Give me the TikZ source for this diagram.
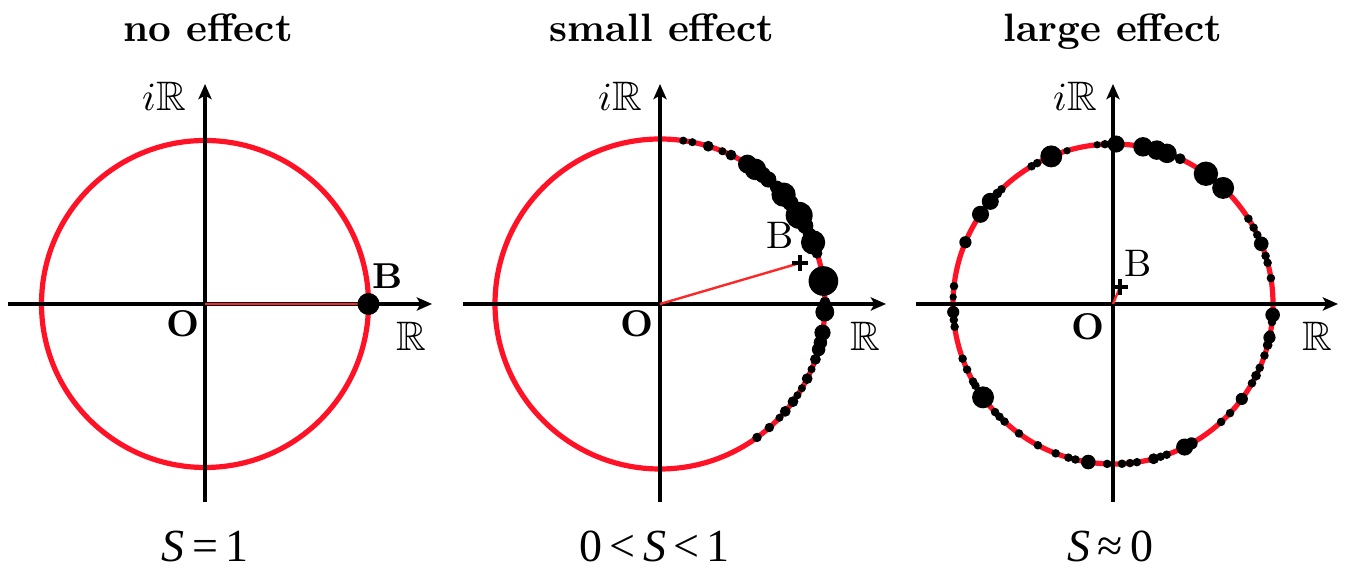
\documentclass[tikz,border=0pt]{standalone}
\usepackage{fontspec}
\usepackage{amssymb}
\usetikzlibrary{arrows.meta}
\newfontfamily\tms{Liberation Serif}
\definecolor{circred}{RGB}{255,18,38}
\definecolor{radred}{RGB}{250,40,40}
\begin{document}
\begin{tikzpicture}[x=0.25pt,y=0.25pt,
  axis/.style={line width=0.8pt,-{Stealth[length=3.8pt,width=3.3pt,inset=0.9pt]}},
  ring/.style={circred,line width=1.3pt},
  radline/.style={radred,line width=0.6pt},
  dot/.style={fill=black},
  plusmark/.style={line width=0.95pt},
  ttl/.style={font=\fontsize{9.9}{12}\bfseries, anchor=base, inner sep=0pt},
  cond/.style={font=\fontsize{11.5}{13}\tms, anchor=base, inner sep=0pt},
  axlabel/.style={font=\fontsize{10.3}{12}\selectfont, anchor=base, inner sep=0pt},
  olabel/.style={font=\fontsize{9.3}{11}\bfseries, anchor=base, inner sep=0pt},
  blabel/.style={font=\fontsize{9.6}{11}\selectfont, anchor=base, inner sep=0pt},
  bblabel/.style={font=\fontsize{9}{11}\bfseries, anchor=base, inner sep=0pt}]
\useasboundingbox (0,0) rectangle (1348,-574);

% ---------------- panel 1: no effect ----------------
\begin{scope}[shift={(205,-304)}]
  \coordinate (O1) at (0,0);
  \coordinate (xl1) at (-197,0);
  \coordinate (xr1) at (227,0);
  \coordinate (yb1) at (0,-198);
  \coordinate (yt1) at (0,220);
  \coordinate (B1) at (163.5,0);
  \draw[ring] (O1) circle (163.5);
  \draw[axis] (xl1) -- (xr1);
  \draw[axis] (yb1) -- (yt1);
  \draw[radline] (O1) -- (B1);
  \fill[dot] (B1) circle (11);
  \node[ttl] (t1) at (3,262) {no effect};
  \node[axlabel] (iR1) at (-41,193) {$i\mathbb{R}$};
  \node[axlabel] (R1) at (206,-47) {$\mathbb{R}$};
  \node[olabel] (o1) at (-22,-33) {O};
  \node[bblabel] (b1) at (183,15) {B};
  \node[cond] (s1) at (0,-258) {{\itshape S}\kern1.8pt=\kern1.8pt1};
\end{scope}

% ---------------- panel 2: small effect ----------------
\begin{scope}[shift={(660,-304)}]
  \coordinate (O2) at (0,0);
  \coordinate (xl2) at (-197,0);
  \coordinate (xr2) at (226,0);
  \coordinate (yb2) at (0,-198);
  \coordinate (yt2) at (0,220);
  \coordinate (B2) at (140,41);
  \draw[ring] (O2) circle (165);
  \draw[axis] (xl2) -- (xr2);
  \draw[axis] (yb2) -- (yt2);
  \draw[radline] (O2) -- (B2);
  \foreach \a/\r in {81.9/3,78.7/3,73/4,67.8/3,64.5/4,58/7,54.7/8,51.5/6,49/6,
     45/5,41.5/9,37.8/6,35/6,32.5/10,28.3/6,25/5,21.9/9,17.9/4,8/11,0.7/4,-2.8/7,
     -10/6,-13.5/5,-16/5,-19.6/4,-23.3/3,-26.9/4,-30.7/3,-33.6/3,-36.3/4,
     -40.6/4,-43.6/3,-48.5/3.5,-54/3.5}
    \fill[dot] (\a:165) circle ({1.35*\r});
  \draw[plusmark] (B2) ++(-8,0) -- ++(16,0);
  \draw[plusmark] (B2) ++(0,-8) -- ++(0,16);
  \node[ttl] (t2) at (2,262) {small effect};
  \node[axlabel] (iR2) at (-40,193) {$i\mathbb{R}$};
  \node[axlabel] (R2) at (205,-47) {$\mathbb{R}$};
  \node[olabel] (o2) at (-22.5,-33) {O};
  \node[blabel] (b2) at (120,55) {B};
  \node[cond] (s2) at (-5.5,-258) {0\kern1.8pt<\kern1.8pt{\itshape S}\kern1.8pt<\kern1.8pt1};
\end{scope}

% ---------------- panel 3: large effect ----------------
\begin{scope}[shift={(1113,-304)}]
  \coordinate (O3) at (0,0);
  \coordinate (xl3) at (-197,0);
  \coordinate (xr3) at (225,0);
  \coordinate (yb3) at (0,-198);
  \coordinate (yt3) at (0,220);
  \coordinate (B3) at (7,17);
  \draw[ring] (O3) circle (160);
  \draw[axis] (xl3) -- (xr3);
  \draw[axis] (yb3) -- (yt3);
  \draw[radline] (O3) -- (B3);
  \foreach \a/\r in {173.6/3.5,177.5/3,182.9/5,185.7/3.5,188.2/3.5,157.3/5,
     145.9/7,140.1/7,136.3/4,134.2/3.5,120.6/3.5,118.3/3.5,112.7/9,106.7/3,
     95.7/3,92.9/3.5,88.9/7,79.2/8,74.1/8,70.3/8,65.2/4.5,54.5/10,46.5/9,
     32.2/3.5,28.5/3.5,25.6/3.5,22.1/6,17.5/3.5,14.9/3.5,9.3/3.5,-3.9/6,
     -6.5/3.5,-11.2/4,-12.1/5,-14.9/4,-18.8/3.5,-23.5/3.5,-26.6/4,-29.7/3.5,
     -36.4/5,-43/3.5,-47.5/3.5,-60.6/5,-63.4/7,-70.4/3.5,-72.7/3.5,-75.3/4.5,
     -81.4/3.5,-83.9/3.5,-86.8/3.5,-92.1/3.5,-98.9/6,-103.6/3.5,-106.2/3.5,
     -111/3.5,-118/3.5,-126/3.5,-132.7/3.5,-135.2/3.5,-137.5/3.5,-144.3/9,
     -149.3/3.5,-151/3.5,-155.8/3.5,-160/3.5}
    \fill[dot] (\a:160) circle ({1.22*\r});
  \draw[plusmark] (B3) ++(-8,0) -- ++(16,0);
  \draw[plusmark] (B3) ++(0,-8) -- ++(0,16);
  \node[ttl] (t3) at (0,262) {large effect};
  \node[axlabel] (iR3) at (-38,193) {$i\mathbb{R}$};
  \node[axlabel] (R3) at (204,-47) {$\mathbb{R}$};
  \node[olabel] (o3) at (-25,-36) {O};
  \node[blabel] (b3) at (25,27) {B};
  \node[cond] (s3) at (-2.5,-258) {{\itshape S}\kern1.8pt≈\kern1.8pt0};
\end{scope}
\end{tikzpicture}
\end{document}
